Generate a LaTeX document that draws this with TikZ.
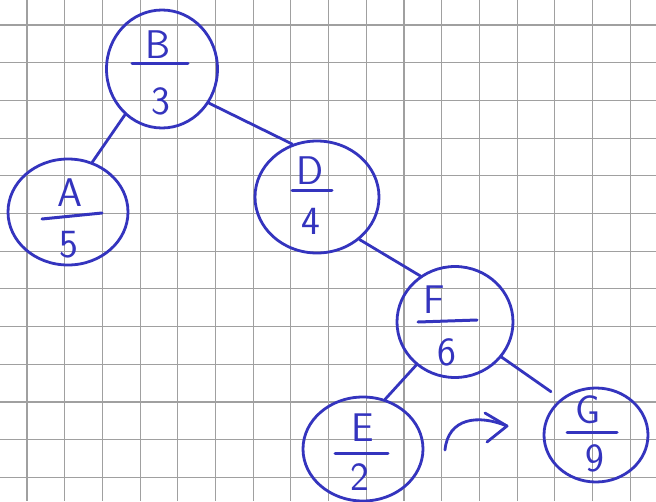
\documentclass[tikz,border=0pt]{standalone}
\usetikzlibrary{shapes.geometric,arrows.meta,calc}
\definecolor{ink}{RGB}{52,52,190}
\definecolor{gridc}{RGB}{160,160,160}
\begin{document}
\begin{tikzpicture}[x=1pt,y=-1pt,
  tnode/.style={draw=ink,line width=2.8pt,ellipse,inner sep=0pt},
  lab/.style={text=ink,font=\fontsize{40}{40}\selectfont\sffamily,inner sep=0pt},
  bar/.style={draw=ink,line width=3pt,line cap=round},
  edge/.style={draw=ink,line width=2.8pt,line cap=round,line join=round},
  gridline/.style={draw=gridc,line width=1.1pt}]
\useasboundingbox (0,0) rectangle (656,501);
\fill[white] (0,0) rectangle (656,501);
\foreach \i in {0,...,17} \draw[gridline] ({27+37.7*\i},0) -- ({27+37.7*\i},501);
\foreach \j in {0,...,12} \draw[gridline] (0,{25+37.7*\j}) -- (656,{25+37.7*\j});

% B
\node[tnode,minimum width=111pt,minimum height=118pt] (B) at (162,69) {};
\node[lab] (Bl) at (158,45) {B};
\draw[bar] (132,63) -- (188,63);
\node[lab] (Bn) at (161,101) {3};
% A
\node[tnode,minimum width=120pt,minimum height=106pt] (A) at (68,212) {};
\node[lab] (Al) at (70,193) {A};
\draw[bar] (42,219) -- (102,213);
\node[lab] (An) at (69,245) {5};
% D
\node[tnode,minimum width=124pt,minimum height=112pt] (D) at (317,197) {};
\node[lab] (Dl) at (310,171) {D};
\draw[bar] (292,190) -- (332,190);
\node[lab] (Dn) at (311,221) {4};
% F
\node[tnode,minimum width=116pt,minimum height=111pt] (F) at (455,322) {};
\node[lab] (Fl) at (434,300) {F};
\draw[bar] (418,322) -- (477,320);
\node[lab] (Fn) at (447,352) {6};
% E
\node[tnode,minimum width=120pt,minimum height=104pt] (E) at (363,449) {};
\node[lab] (El) at (363,428) {E};
\draw[bar] (335,453) -- (388,453);
\node[lab] (En) at (360,477) {2};
% G
\node[tnode,minimum width=104pt,minimum height=94pt] (G) at (596,435) {};
\node[lab] (Gl) at (588,410) {G};
\draw[bar] (567,432) -- (617,432);
\node[lab] (Gn) at (595,458) {9};

% edges
\draw[edge] (B.231) -- (A.64);
\draw[edge] (B.324) -- (D.115);
\draw[edge] (D.315) -- (F.127);
\draw[edge] (F.228) -- (E.66);
\draw[edge,shorten >=12pt] (F.323) -- (G.134);

% curved arrow
\coordinate (a0) at (445,450);
\coordinate (a1) at (507,426);
\draw[edge] (a0) .. controls (448,418) and (478,414) .. (a1);
\draw[edge] ($(a1)+(-22,-13)$) -- (a1) -- ($(a1)+(-20,16)$);
\end{tikzpicture}
\end{document}
